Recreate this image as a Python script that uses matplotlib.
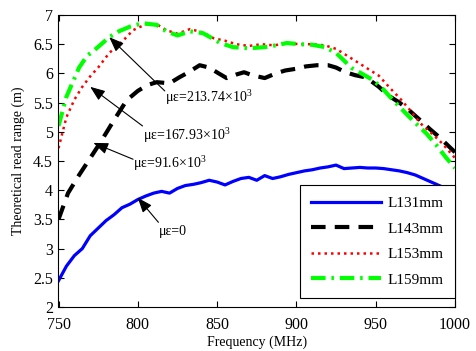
import matplotlib
matplotlib.use('Agg')
import matplotlib.pyplot as plt
import numpy as np

plt.rcParams['font.family'] = ['Liberation Serif', 'DejaVu Serif']
plt.rcParams['mathtext.fontset'] = 'custom'
plt.rcParams['mathtext.rm'] = 'Liberation Serif'

# L131mm (blue, solid)
f131 = [750, 755, 760, 765, 770, 775, 780, 785, 790, 795, 800, 805, 810, 815, 820, 825, 830, 835,
        840, 845, 850, 855, 860, 865, 870, 875, 880, 885, 890, 895, 900, 905, 910, 915, 920, 925,
        930, 935, 940, 945, 950, 955, 960, 965, 970, 975, 980, 985, 990, 995, 1000]
r131 = [2.45, 2.7, 2.88, 3.0, 3.22, 3.35, 3.48, 3.58, 3.7, 3.76, 3.84, 3.9, 3.95, 3.98, 3.95, 4.03, 4.08, 4.1,
        4.13, 4.17, 4.14, 4.09, 4.15, 4.2, 4.22, 4.17, 4.25, 4.2, 4.23, 4.27, 4.3, 4.33, 4.35, 4.38, 4.4, 4.43,
        4.37, 4.38, 4.39, 4.38, 4.38, 4.37, 4.35, 4.33, 4.3, 4.26, 4.2, 4.14, 4.08, 4.02, 3.96]

# L143mm (black, dashed)
f143 = [750, 756, 763, 770, 776, 785, 793, 800, 806, 812, 820, 826, 832, 839, 845, 851, 856, 862,
        867, 872, 880, 887, 893, 900, 906, 913, 920, 925, 931, 937, 944, 952, 958, 965, 971, 978,
        984, 990, 995, 1000]
r143 = [3.5, 3.95, 4.26, 4.55, 4.8, 5.2, 5.54, 5.7, 5.8, 5.85, 5.83, 5.93, 6.02, 6.14, 6.1, 6.0, 5.92, 5.98,
        6.02, 5.97, 5.92, 6.0, 6.05, 6.08, 6.12, 6.14, 6.14, 6.1, 6.02, 5.97, 5.93, 5.77, 5.62, 5.5, 5.37, 5.2,
        5.05, 4.91, 4.78, 4.65]

# L153mm (red, dotted)
f153 = [750, 755, 760, 765, 770, 775, 782, 790, 797, 805, 812, 818, 825, 833, 841, 848, 855, 862,
        870, 878, 886, 894, 902, 910, 918, 925, 931, 938, 945, 952, 959, 966, 972, 978, 985, 992, 1000]
r153 = [4.72, 5.25, 5.55, 5.77, 5.95, 6.1, 6.35, 6.54, 6.74, 6.84, 6.84, 6.74, 6.68, 6.76, 6.7, 6.6, 6.56, 6.5,
        6.47, 6.5, 6.48, 6.52, 6.5, 6.5, 6.48, 6.42, 6.32, 6.2, 6.08, 5.96, 5.75, 5.55, 5.36, 5.15, 4.98, 4.8, 4.55]

# L159mm (green, dash-dot)
f159 = [750, 755, 759, 763, 768, 774, 782, 788, 795, 803, 812, 818, 825, 833, 841, 847, 852, 860,
        870, 880, 887, 894, 902, 910, 918, 925, 935, 941, 948, 954, 959, 965, 971, 977, 982, 988, 994, 1000]
r159 = [5.1, 5.6, 5.85, 6.1, 6.3, 6.43, 6.62, 6.72, 6.8, 6.86, 6.83, 6.72, 6.65, 6.72, 6.69, 6.6, 6.52, 6.45,
        6.43, 6.45, 6.48, 6.52, 6.5, 6.49, 6.45, 6.35, 6.09, 6.0, 5.89, 5.75, 5.6, 5.43, 5.26, 5.1, 4.97, 4.78, 4.57, 4.38]

labels = ['L131mm', 'L143mm', 'L153mm', 'L159mm']

fig = plt.figure(figsize=(4.77, 3.51), dpi=100)
ax = fig.add_axes([58.5 / 477, 1 - 307 / 351, 396.5 / 477, 292 / 351])

ax.plot(f131, r131, color='#0000ff', lw=2.3, label=labels[0])
ax.plot(f143, r143, color='black', lw=3, dashes=(3.5, 2.2), label=labels[1])
ax.plot(f153, r153, color='red', lw=1.8, dashes=(1.0, 1.6), label=labels[2])
ax.plot(f159, r159, color='#00ff00', lw=3, dashes=(3.5, 1.4, 0.6, 1.4), label=labels[3])

# annotations: (text, text pos, arrow tail, arrow tip)
notes = [
    ('με=213.74×10$^{3}$', (817, 5.6), (817, 5.7), (782, 6.62)),
    ('με=167.93×10$^{3}$', (803, 4.95), (803, 5.1), (770, 5.77)),
    ('με=91.6×10$^{3}$', (797, 4.47), (797, 4.53), (772, 4.81)),
    ('με=0', (813, 3.3), (813, 3.45), (800, 3.87)),
]
for txt, tpos, tail, tip in notes:
    ax.text(tpos[0], tpos[1], txt, fontsize=10, ha='left', va='center')
    ax.annotate('', xy=tip, xytext=tail,
                arrowprops=dict(arrowstyle='-|>,head_length=0.9,head_width=0.35',
                                color='black', lw=0.8, shrinkA=0, shrinkB=0))

ax.set_xlim(750, 1000)
ax.set_ylim(2, 7)
ax.set_xticks(np.arange(750, 1001, 50))
ax.set_yticks(np.arange(2, 7.01, 0.5))
ax.set_yticklabels(['2', '2.5', '3', '3.5', '4', '4.5', '5', '5.5', '6', '6.5', '7'])
ax.tick_params(direction='in', top=True, right=True, labelsize=11.5, length=4)
ax.tick_params(axis='x', pad=7)
ax.tick_params(axis='y', pad=4)
ax.set_xlabel('Frequency (MHz)', fontsize=10, labelpad=2)
ax.set_ylabel('Theoretical read range (m)', fontsize=10, labelpad=6)

leg = ax.legend(loc='lower right', bbox_to_anchor=(1.0, 0.03), borderaxespad=0,
                fontsize=11, fancybox=False, framealpha=1, handlelength=4.6,
                labelspacing=0.78, borderpad=0.75, handletextpad=0.4)
leg.get_frame().set_edgecolor('black')
leg.get_frame().set_linewidth(0.8)

fig.savefig('out.png', dpi=100)
